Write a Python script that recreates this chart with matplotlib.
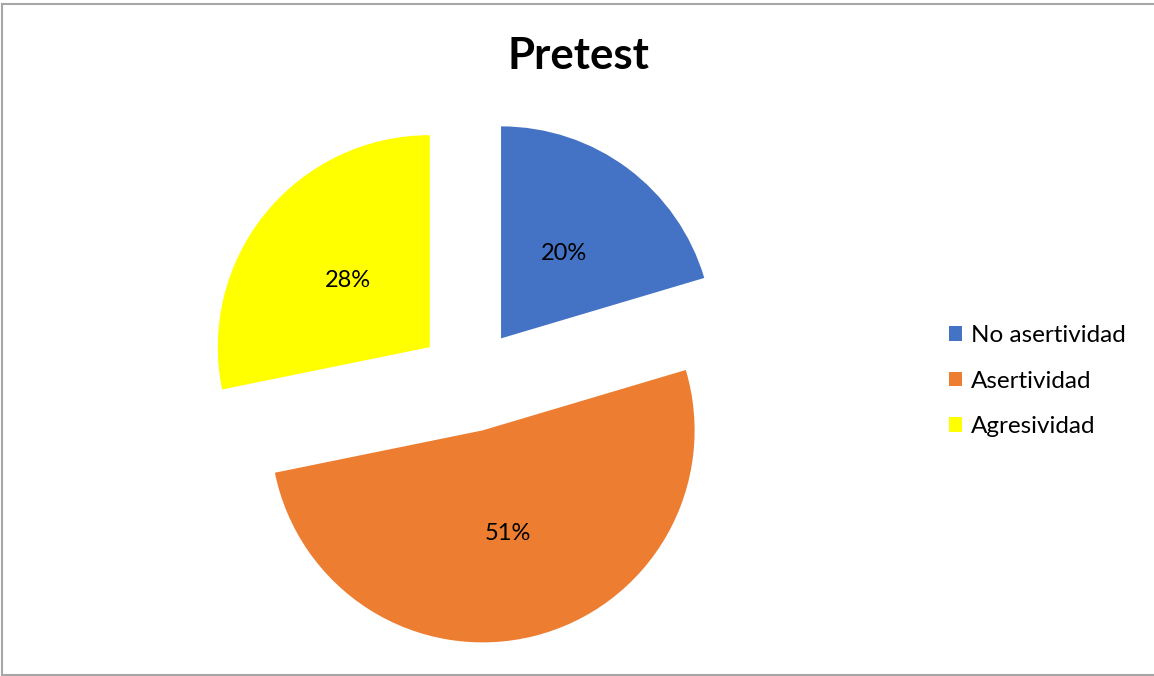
import matplotlib
matplotlib.use("Agg")
import matplotlib.pyplot as plt
from matplotlib.patches import Rectangle

# data
categories = ["No asertividad", "Asertividad", "Agresividad"]
values = [20.4, 51.4, 28.2]
colors = ["#4472C4", "#ED7D31", "#FFFF00"]

plt.rcParams['font.family'] = ['Lato', 'DejaVu Sans']

W, H = 1154, 676
fig = plt.figure(figsize=(W / 100, H / 100), dpi=100)

# pie axes: center at (470, 380) px, radius 212 px
cx, cy, r_px, half = 470, 380, 212, 280
ax = fig.add_axes([(cx - half) / W, (H - cy - half) / H, 2 * half / W, 2 * half / H])
s = half / r_px
wedges, texts, autotexts = ax.pie(values, colors=colors, startangle=90, counterclock=False,
                                  explode=[0.245] * 3, radius=1, autopct='%.0f%%',
                                  pctdistance=0.5, textprops={'fontsize': 17},
                                  wedgeprops={'linewidth': 0})
ax.set_xlim(-s, s)
ax.set_ylim(-s, s)
ax.set_aspect('equal')
ax.axis('off')

fig.text(578 / W, 1 - 56 / H, "Pretest", ha='center', va='center', fontsize=31.5, fontweight='bold')

fig.legend(wedges, categories, loc='center left', bbox_to_anchor=(949 / W, 1 - 381 / H),
           frameon=False, fontsize=17.5, handlelength=0.55, handleheight=0.55,
           handletextpad=0.35, labelspacing=1.0, borderpad=0, borderaxespad=0)

# chart area border: left, top and bottom only (right edge is cut off in the reference)
border = dict(color='#A6A6A6', linewidth=1.5, transform=fig.transFigure)
fig.add_artist(plt.Line2D([2 / W, 2 / W], [1 / H, 1 - 4 / H], **border))
fig.add_artist(plt.Line2D([2 / W, 1.0], [1 - 4 / H, 1 - 4 / H], **border))
fig.add_artist(plt.Line2D([2 / W, 1.0], [1 / H, 1 / H], **border))

fig.savefig("out.png", dpi=100)
